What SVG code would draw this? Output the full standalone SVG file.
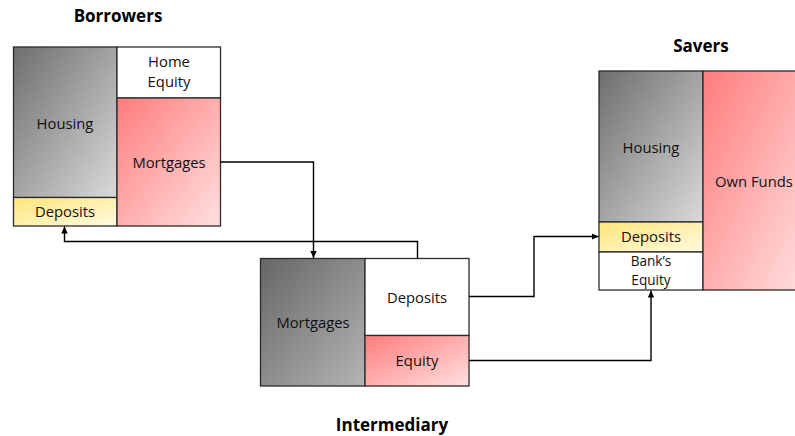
<svg xmlns="http://www.w3.org/2000/svg" width="795" height="436" viewBox="0 0 795 436">
<defs>
<linearGradient id="grey" x1="0" y1="0" x2="1" y2="1"><stop offset="0" stop-color="#6e6e6e"/><stop offset="1" stop-color="#dadada"/></linearGradient>
<linearGradient id="grey2" x1="0" y1="0" x2="1" y2="1"><stop offset="0" stop-color="#666666"/><stop offset="1" stop-color="#b4b4b4"/></linearGradient>
<linearGradient id="red" x1="0" y1="0" x2="1" y2="1"><stop offset="0" stop-color="#ff7c7c"/><stop offset="1" stop-color="#ffe0e0"/></linearGradient>
<linearGradient id="yel" x1="0" y1="0" x2="1" y2="1"><stop offset="0" stop-color="#ffe57a"/><stop offset="1" stop-color="#fffbe2"/></linearGradient>
<marker id="arr" markerWidth="8" markerHeight="8" refX="7" refY="4" orient="auto" markerUnits="userSpaceOnUse"><path d="M0,0.8 L7,4 L0,7.2 Z" fill="#000"/></marker>
</defs>
<style>
.box{stroke:#2b2b2b;stroke-width:1.3}
.lbl{font-family:"Open Sans","Liberation Sans",sans-serif;font-size:14.8px;fill:#111;text-anchor:middle}
.sm{font-size:13.6px}
.ttl{font-family:"Open Sans","Liberation Sans",sans-serif;font-size:17px;font-weight:bold;fill:#000;text-anchor:middle}
.con{fill:none;stroke:#000;stroke-width:1.4;marker-end:url(#arr)}
</style>

<g id="borrowers">
<text class="ttl" x="118" y="22">Borrowers</text>
<rect class="box" x="13.5" y="47" width="103.5" height="150.5" fill="url(#grey)"/>
<rect class="box" x="13.5" y="197.5" width="103.5" height="28.5" fill="url(#yel)"/>
<rect class="box" x="117" y="47" width="103.5" height="51" fill="#fff"/>
<rect class="box" x="117" y="98" width="103.5" height="128" fill="url(#red)"/>
<text class="lbl" x="65" y="129">Housing</text>
<text class="lbl" x="65" y="217">Deposits</text>
<text class="lbl" x="169" y="67">Home</text>
<text class="lbl" x="169" y="87">Equity</text>
<text class="lbl" x="169" y="168">Mortgages</text>
</g>

<g id="intermediary">
<rect class="box" x="260.5" y="258.5" width="104.5" height="127.5" fill="url(#grey2)"/>
<rect class="box" x="365" y="258.5" width="104" height="77" fill="#fff"/>
<rect class="box" x="365" y="335.5" width="104" height="50.5" fill="url(#red)"/>
<text class="lbl" x="313" y="328">Mortgages</text>
<text class="lbl" x="417" y="303">Deposits</text>
<text class="lbl" x="417" y="366">Equity</text>
<text class="ttl" x="392" y="431">Intermediary</text>
</g>

<g id="savers">
<text class="ttl" x="701" y="52">Savers</text>
<rect class="box" x="599" y="71" width="104" height="151" fill="url(#grey)"/>
<rect class="box" x="599" y="222" width="104" height="30" fill="url(#yel)"/>
<rect class="box" x="599" y="252" width="104" height="38" fill="#fff"/>
<rect class="box" x="703" y="71" width="104" height="219" fill="url(#red)"/>
<text class="lbl" x="651" y="153">Housing</text>
<text class="lbl" x="651" y="242">Deposits</text>
<text class="lbl sm" x="651" y="266">Bank’s</text>
<text class="lbl sm" x="651" y="285">Equity</text>
<text class="lbl" x="754" y="187">Own Funds</text>
</g>

<g id="connectors">
<path class="con" d="M220.5,162 H313.5 V258"/>
<path class="con" d="M417.5,258.5 V241.5 H64.5 V226.5"/>
<path class="con" d="M469,296.5 H534 V236.5 H598.5"/>
<path class="con" d="M469,360.5 H651 V290.5"/>
</g>
</svg>
